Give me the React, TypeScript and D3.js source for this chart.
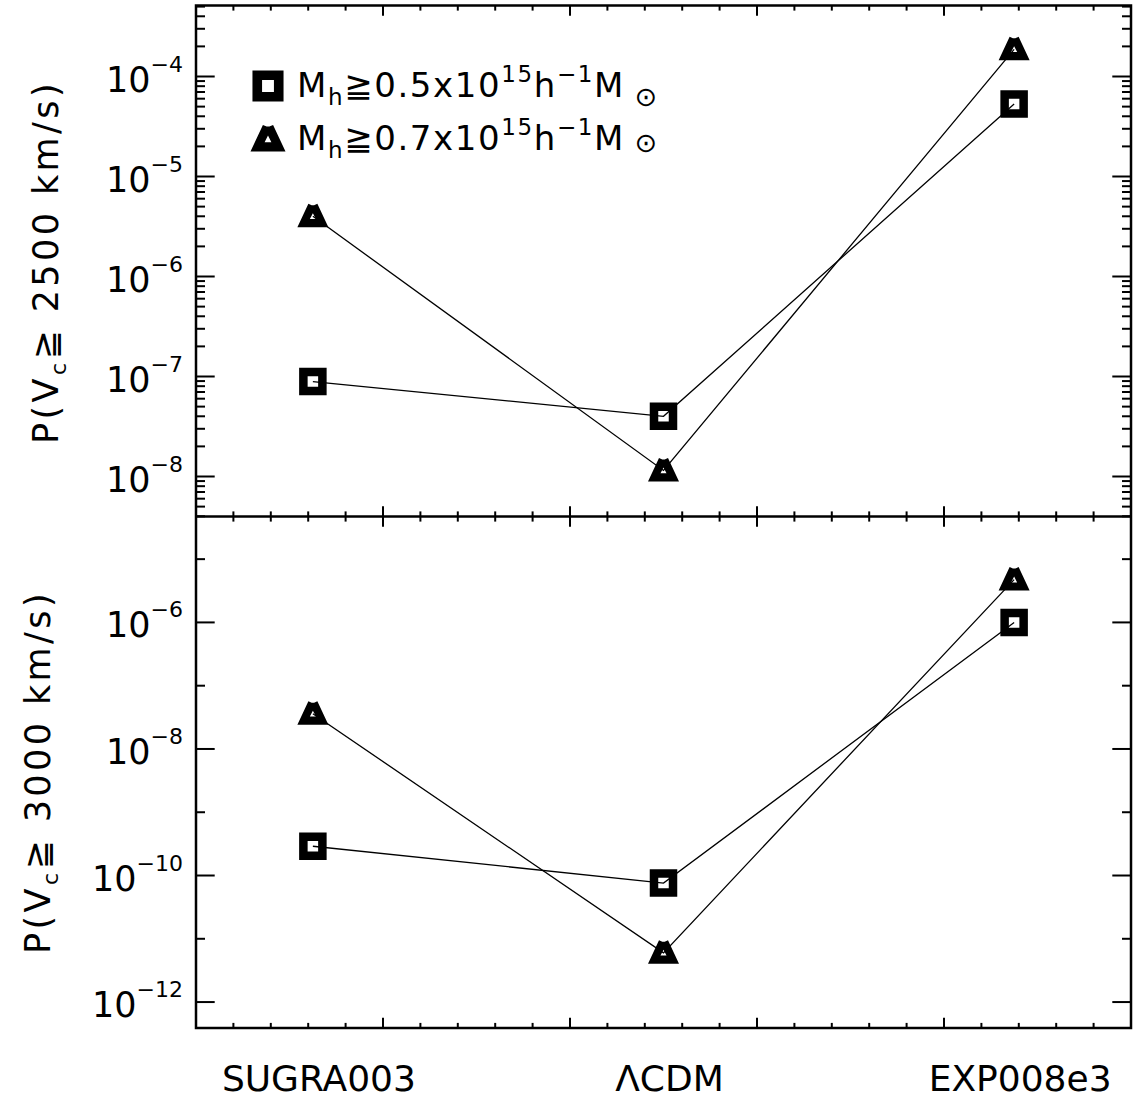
import React from "react";
import * as d3 from "d3";

const categories = ["SUGRA003", "ΛCDM", "EXP008e3"];
// P(Vc >= 2500 km/s)
const top05 = [8.9e-8, 4.0e-8, 5.3e-5];
const top07 = [4.0e-6, 1.15e-8, 1.87e-4];
// P(Vc >= 3000 km/s)
const bot05 = [2.9e-10, 7.6e-11, 1.0e-6];
const bot07 = [3.6e-8, 6.0e-12, 4.75e-6];

const topMajorExps = [-4, -5, -6, -7, -8];
const botMajorExps = [-6, -8, -10, -12];
const botMinorExps = [-5, -7, -9, -11];

const FONT = "'DejaVu Sans', sans-serif";

const L = 196, R = 1131;
const T1 = 5.5, B1 = 516.5, T2 = 516.5, B2 = 1028;

const x = d3.scaleLinear().domain([-1 / 3, 7 / 3]).range([L, R]);
const xt = d3.scaleLinear().domain([0, 25]).range([L, R]);
const y1 = d3.scaleLog().domain([Math.pow(10, -8.4), Math.pow(10, -3.29)]).range([B1, T1]);
const y2 = d3.scaleLog().domain([Math.pow(10, -12.41), Math.pow(10, -4.326)]).range([B2, T2]);

const Square = ({ cx, cy, k = 1 }: { cx: number; cy: number; k?: number }) => {
  const o = 13.75 * k, i = 5.25 * k;
  const d = `M${cx - o},${cy - o}H${cx + o}V${cy + o}H${cx - o}Z M${cx - i},${cy - i}V${cy + i}H${cx + i}V${cy - i}Z`;
  return <path d={d} fill="#000" fillRule="evenodd" />;
};

const Triangle = ({ cx, cy, k = 1 }: { cx: number; cy: number; k?: number }) => {
  const p = (dx: number, dy: number) => `${cx + dx * k},${cy + dy * k}`;
  const d =
    `M${p(-4.5, -12.5)}L${p(-1.2, -11)}L${p(1.2, -11)}L${p(4.5, -12.5)}L${p(15.5, 11)}L${p(-15.5, 11)}Z ` +
    `M${p(0, -3)}L${p(-3, 2.8)}L${p(3, 2.8)}Z`;
  return <path d={d} fill="#000" fillRule="evenodd" />;
};

function Panel({ y, top, bottom, s05, s07, majors, minors, minorDecadeSub }: any) {
  const lineGen = d3.line<number>().x((_, i) => x(i)).y((v) => y(v));
  const yTicks: any[] = [];
  majors.forEach((e: number, k: number) => {
    const yy = y(Math.pow(10, e));
    yTicks.push(<line key={"ml" + k} x1={L} x2={L + 18.7} y1={yy} y2={yy} stroke="#000" strokeWidth={2} />);
    yTicks.push(<line key={"mr" + k} x1={R} x2={R - 18.7} y1={yy} y2={yy} stroke="#000" strokeWidth={2} />);
  });
  const minorVals: number[] = [];
  if (minorDecadeSub) {
    const [lo, hi] = y.domain();
    for (let e = Math.floor(Math.log10(lo)); e <= Math.ceil(Math.log10(hi)); e++) {
      for (let m = 2; m <= 9; m++) {
        const v = m * Math.pow(10, e);
        if (v >= lo && v <= hi) minorVals.push(v);
      }
    }
  } else {
    minors.forEach((e: number) => minorVals.push(Math.pow(10, e)));
  }
  minorVals.forEach((v, k) => {
    const yy = y(v);
    yTicks.push(<line key={"nl" + k} x1={L} x2={L + 9} y1={yy} y2={yy} stroke="#000" strokeWidth={2} />);
    yTicks.push(<line key={"nr" + k} x1={R} x2={R - 9} y1={yy} y2={yy} stroke="#000" strokeWidth={2} />);
  });
  const xTicks: any[] = [];
  for (let i = 0; i <= 25; i++) {
    const xx = xt(i);
    const len = i % 5 === 0 ? 10.2 : 5.1;
    xTicks.push(<line key={"xt" + i} x1={xx} x2={xx} y1={top} y2={top + len} stroke="#000" strokeWidth={2} />);
    xTicks.push(<line key={"xb" + i} x1={xx} x2={xx} y1={bottom} y2={bottom - len} stroke="#000" strokeWidth={2} />);
  }
  return (
    <g>
      {yTicks}
      {xTicks}
      {majors.map((e: number) => (
        <text key={"tl" + e} x={183} y={y(Math.pow(10, e)) + 15} textAnchor="end" fontFamily={FONT} fontSize={35}>
          10<tspan dy={-20} fontSize={22}>{"−" + String(-e)}</tspan>
        </text>
      ))}
      <path d={lineGen(s05) || ""} fill="none" stroke="#000" strokeWidth={1.3} />
      <path d={lineGen(s07) || ""} fill="none" stroke="#000" strokeWidth={1.3} />
      {s05.map((v: number, i: number) => <Square key={"s" + i} cx={x(i)} cy={y(v)} />)}
      {s07.map((v: number, i: number) => <Triangle key={"t" + i} cx={x(i)} cy={y(v)} />)}
    </g>
  );
}

const YTitle = ({ cx, cy, speed }: { cx: number; cy: number; speed: string }) => (
  <text transform={`translate(${cx},${cy}) rotate(-90)`} textAnchor="middle" fontFamily={FONT} fontSize={35} letterSpacing={3.4}>
    P(V<tspan dy={8} fontSize={22}>c</tspan><tspan dy={-8}>{"≧ " + speed + " km/s)"}</tspan>
  </text>
);

const LegendText = ({ x0, y0, val }: { x0: number; y0: number; val: string }) => (
  <text x={x0} y={y0} fontFamily={FONT} fontSize={34} letterSpacing={1.6}>
    M<tspan dy={8} fontSize={23}>h</tspan>
    <tspan dy={-8}>{"≧" + val + "x10"}</tspan>
    <tspan dy={-15} fontSize={23}>15</tspan>
    <tspan dy={15}>h</tspan>
    <tspan dy={-15} fontSize={23}>−1</tspan>
    <tspan dy={15}>M</tspan>
  </text>
);

export default function App() {
  return (
    <svg width={1135} height={1100} style={{ display: "block", position: "absolute", left: 0, top: 0, background: "#fff" }}>
      <rect width={1135} height={1100} fill="#fff" />
      <Panel y={y1} top={T1} bottom={B1} s05={top05} s07={top07} majors={topMajorExps} minors={[]} minorDecadeSub={true} />
      <Panel y={y2} top={T2} bottom={B2} s05={bot05} s07={bot07} majors={botMajorExps} minors={botMinorExps} minorDecadeSub={false} />
      <rect x={L} y={T1} width={R - L} height={B2 - T1} fill="none" stroke="#000" strokeWidth={2.5} />
      <line x1={L} x2={R} y1={B1} y2={B1} stroke="#000" strokeWidth={2.5} />
      <YTitle cx={58} cy={262} speed="2500" />
      <YTitle cx={50} cy={772} speed="3000" />
      {categories.map((c, i) => (
        <text key={c} x={x(i) + 6} y={1091} textAnchor="middle" fontFamily={FONT} fontSize={36}>{c}</text>
      ))}
      <Square cx={268} cy={86} k={1.13} />
      <Triangle cx={268} cy={139} k={1.13} />
      <LegendText x0={297} y0={97} val="0.5" />
      <LegendText x0={297} y0={150} val="0.7" />
      <text x={646} y={106} textAnchor="middle" fontFamily={FONT} fontSize={27}>⊙</text>
      <text x={646} y={152} textAnchor="middle" fontFamily={FONT} fontSize={27}>⊙</text>
    </svg>
  );
}
